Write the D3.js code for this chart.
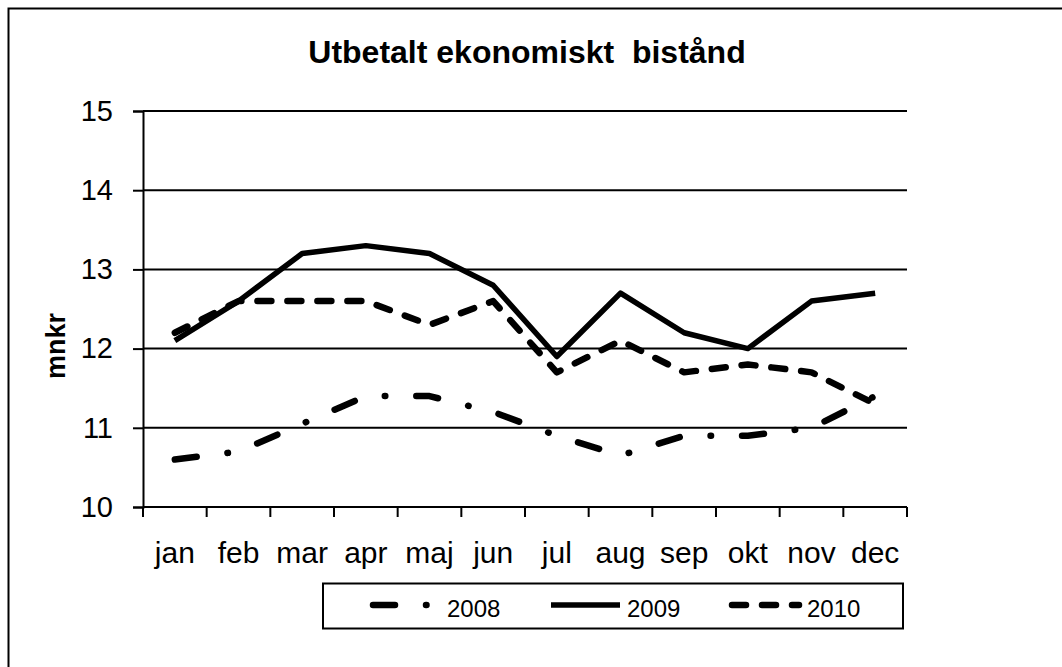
<!DOCTYPE html>
<html>
<head>
<meta charset="utf-8">
<script src="https://cdn.jsdelivr.net/npm/d3@7"></script>
<style>
  body { margin: 0; background: #fff; }
  svg { display: block; font-family: "Liberation Sans", Arial, sans-serif; }
</style>
</head>
<body>
<div id="chart"></div>
<script>
// chart data
const months = ["jan", "feb", "mar", "apr", "maj", "jun", "jul", "aug", "sep", "okt", "nov", "dec"];
const years = ["2008", "2009", "2010"];
const values2008 = [10.6, 10.7, 11.05, 11.4, 11.4, 11.2, 10.9, 10.65, 10.9, 10.9, 11.0, 11.4];
const values2009 = [12.1, 12.6, 13.2, 13.3, 13.2, 12.8, 11.9, 12.7, 12.2, 12.0, 12.6, 12.7];
const values2010 = [12.2, 12.6, 12.6, 12.6, 12.3, 12.6, 11.7, 12.1, 11.7, 11.8, 11.7, 11.3];
const yTicks = [10, 11, 12, 13, 14, 15];

const width = 1062, height = 667;
const plot = {left: 143, right: 907, top: 111, bottom: 507};

const svg = d3.select("#chart").append("svg")
    .attr("width", width)
    .attr("height", height);

// outer frame (runs past the right and bottom edge like the original)
svg.append("rect")
    .attr("x", 8.5).attr("y", 8.5)
    .attr("width", 1060).attr("height", 665)
    .attr("fill", "none").attr("stroke", "#000").attr("stroke-width", 2);

svg.append("text")
    .attr("x", 527).attr("y", 63)
    .attr("text-anchor", "middle")
    .style("font-size", "32px").style("font-weight", "bold")
    .style("white-space", "pre")
    .text("Utbetalt ekonomiskt  bistånd");

const x = d3.scaleBand().domain(months).range([plot.left, plot.right]);
const y = d3.scaleLinear().domain([10, 15]).range([plot.bottom, plot.top]);

// gridlines
svg.append("g").selectAll("line").data(yTicks.slice(1))
    .enter().append("line")
    .attr("x1", plot.left).attr("x2", plot.right)
    .attr("y1", d => y(d)).attr("y2", d => y(d))
    .attr("stroke", "#000").attr("stroke-width", 2);

// y axis
const yAxis = svg.append("g")
    .attr("transform", "translate(" + plot.left + ",0)")
    .call(d3.axisLeft(y).tickValues(yTicks).tickFormat(d3.format("d")).tickSize(10).tickPadding(20));
yAxis.select(".domain").attr("stroke-width", 2);
yAxis.selectAll(".tick line").attr("stroke-width", 2);
yAxis.selectAll(".tick text")
    .style("font-size", "29px").style("font-family", "Liberation Sans, Arial, sans-serif")
    .attr("fill", "#000");

// x axis: ticks between categories
const xAxisG = svg.append("g").attr("transform", "translate(0," + plot.bottom + ")");
xAxisG.append("line")
    .attr("x1", plot.left).attr("x2", plot.right)
    .attr("stroke", "#000").attr("stroke-width", 2);
const bounds = months.map(m => x(m)).concat([plot.right]);
xAxisG.selectAll(".xt").data(bounds).enter().append("line")
    .attr("x1", d => d).attr("x2", d => d)
    .attr("y1", 0).attr("y2", 10)
    .attr("stroke", "#000").attr("stroke-width", 2);
xAxisG.selectAll("text").data(months).enter().append("text")
    .attr("x", d => x(d) + x.bandwidth() / 2)
    .attr("y", 56)
    .attr("text-anchor", "middle")
    .style("font-size", "30px")
    .text(d => d);

svg.append("text")
    .attr("transform", "translate(65,346) rotate(-90)")
    .attr("text-anchor", "middle")
    .style("font-size", "27px").style("font-weight", "bold")
    .text("mnkr");

const line = d3.line()
    .x((d, i) => x(months[i]) + x.bandwidth() / 2)
    .y(d => y(d));

const styles = {
    "2008": {data: values2008, width: 6.5, dash: "22,31,0.5,31"},
    "2009": {data: values2009, width: 5.5, dash: null},
    "2010": {data: values2010, width: 6.5, dash: "14,16"}
};

years.forEach(yr => {
    const s = styles[yr];
    svg.append("path")
        .datum(s.data)
        .attr("d", line)
        .attr("fill", "none")
        .attr("stroke", "#000")
        .attr("stroke-width", s.width)
        .attr("stroke-linecap", s.dash ? "round" : "butt")
        .attr("stroke-linejoin", "round")
        .attr("stroke-dasharray", s.dash);
});

// legend
const legend = svg.append("g");
legend.append("rect")
    .attr("x", 323).attr("y", 583.5)
    .attr("width", 580).attr("height", 45)
    .attr("fill", "none").attr("stroke", "#000").attr("stroke-width", 2);

const legendItems = [
    {year: "2008", x1: 373, x2: 428, tx: 447},
    {year: "2009", x1: 551, x2: 620, tx: 627},
    {year: "2010", x1: 732, x2: 799, tx: 807}
];
legendItems.forEach(it => {
    const s = styles[it.year];
    legend.append("line")
        .attr("x1", it.x1).attr("x2", it.x2)
        .attr("y1", 605).attr("y2", 605)
        .attr("stroke", "#000")
        .attr("stroke-width", s.width)
        .attr("stroke-linecap", s.dash ? "round" : "butt")
        .attr("stroke-dasharray", s.dash);
    legend.append("text")
        .attr("x", it.tx).attr("y", 617)
        .style("font-size", "24px")
        .text(it.year);
});
</script>
</body>
</html>
